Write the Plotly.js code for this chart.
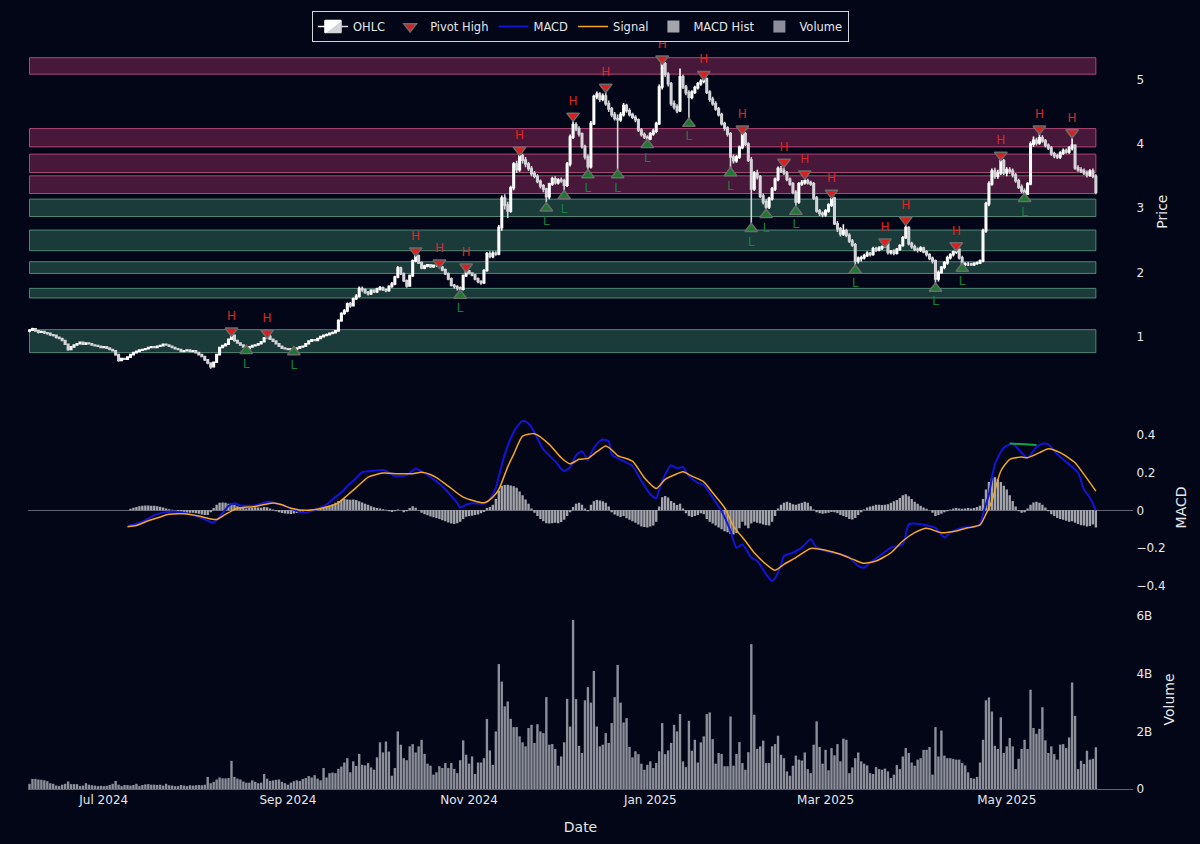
<!DOCTYPE html>
<html>
<head>
<meta charset="utf-8">
<script src="https://cdn.plot.ly/plotly-3.0.1.min.js"></script>
<style>
html,body{margin:0;padding:0;background:#020617;}
#chart{width:1200px;height:844px;}
</style>
</head>
<body>
<div id="chart"></div>
<script>
// ---- daily OHLC (day 0 = 2024-06-06) ----
const startDate = '2024-06-06';
const openPx = [
1.09,1.10,1.12,1.09,1.07,1.08,1.06,1.05,1.03,1.02,
0.99,0.97,0.94,0.88,0.80,0.84,0.87,0.89,0.91,0.88,
0.90,0.89,0.87,0.86,0.85,0.83,0.84,0.82,0.80,0.78,
0.72,0.63,0.66,0.65,0.68,0.72,0.75,0.77,0.79,0.80,
0.81,0.83,0.84,0.83,0.85,0.86,0.88,0.87,0.85,0.83,
0.81,0.80,0.77,0.78,0.79,0.77,0.78,0.75,0.72,0.69,
0.64,0.59,0.53,0.60,0.72,0.83,0.86,0.88,0.96,1.02,
0.94,0.90,0.87,0.84,0.81,0.84,0.86,0.87,0.89,0.92,
0.98,1.00,0.96,0.93,0.89,0.85,0.82,0.81,0.80,0.81,
0.80,0.82,0.84,0.85,0.89,0.93,0.95,0.94,0.97,1.00,
1.02,1.03,1.05,1.06,1.09,1.25,1.36,1.40,1.51,1.48,
1.59,1.63,1.75,1.73,1.69,1.67,1.72,1.70,1.74,1.76,
1.73,1.72,1.78,1.82,1.93,2.07,1.98,1.87,1.79,1.95,
2.18,2.26,2.15,2.07,2.10,2.12,2.09,2.11,2.11,2.08,
2.04,1.98,1.90,1.80,1.78,1.76,1.74,1.95,2.02,1.99,
1.96,1.90,1.86,1.84,2.03,2.29,2.25,2.30,2.29,2.70,
3.16,3.05,2.96,3.32,3.69,3.60,3.82,3.75,3.69,3.62,
3.54,3.50,3.42,3.35,3.30,3.18,3.38,3.46,3.40,3.44,
3.43,3.36,3.69,4.11,4.30,4.24,4.16,3.96,3.80,3.65,
4.32,4.74,4.78,4.70,4.75,4.63,4.55,4.46,4.40,4.38,
4.46,4.60,4.52,4.46,4.42,4.38,4.22,4.15,4.11,4.08,
4.16,4.20,4.32,4.89,5.25,5.09,4.94,4.63,4.58,4.52,
5.05,4.89,4.80,4.73,4.81,4.88,4.94,4.98,5.02,4.81,
4.70,4.63,4.55,4.46,4.32,4.25,4.16,3.80,3.74,3.80,
3.95,4.16,4.00,3.75,3.30,3.55,3.49,3.19,3.10,3.02,
3.15,3.30,3.45,3.62,3.58,3.55,3.45,3.38,3.25,3.10,
3.38,3.40,3.43,3.40,3.38,3.16,2.96,2.92,2.90,2.96,
3.05,3.16,2.76,2.68,2.60,2.65,2.58,2.49,2.43,2.18,
2.22,2.23,2.26,2.30,2.28,2.37,2.35,2.38,2.40,2.45,
2.31,2.33,2.30,2.36,2.42,2.54,2.70,2.45,2.40,2.36,
2.35,2.38,2.32,2.28,2.22,2.18,1.90,2.00,2.08,2.15,
2.23,2.28,2.32,2.36,2.23,2.12,2.13,2.13,2.12,2.14,
2.15,2.18,2.65,3.07,3.38,3.58,3.50,3.55,3.74,3.55,
3.60,3.58,3.52,3.43,3.33,3.27,3.22,3.38,4.00,4.06,
4.02,4.10,4.05,3.98,3.94,3.85,3.82,3.80,3.86,3.90,
3.88,3.94,3.98,3.63,3.60,3.58,3.55,3.52,3.58,3.50];
const highPx = [
1.12,1.14,1.13,1.10,1.09,1.09,1.07,1.06,1.04,1.03,
1.00,0.98,0.95,0.89,0.85,0.88,0.90,0.92,0.92,0.91,
0.91,0.90,0.88,0.87,0.86,0.85,0.85,0.83,0.81,0.79,
0.73,0.67,0.67,0.69,0.73,0.76,0.78,0.80,0.81,0.82,
0.84,0.85,0.85,0.86,0.87,0.89,0.89,0.88,0.86,0.84,
0.82,0.81,0.79,0.80,0.80,0.79,0.79,0.76,0.73,0.70,
0.65,0.60,0.61,0.73,0.84,0.87,0.90,0.97,1.06,1.03,
0.95,0.91,0.88,0.85,0.85,0.87,0.88,0.90,0.93,0.99,
1.02,1.03,0.97,0.94,0.90,0.86,0.83,0.82,0.82,0.82,
0.83,0.85,0.86,0.90,0.94,0.96,0.96,0.98,1.01,1.03,
1.05,1.06,1.08,1.10,1.27,1.38,1.43,1.53,1.54,1.61,
1.66,1.78,1.78,1.75,1.71,1.74,1.74,1.76,1.79,1.78,
1.75,1.80,1.85,1.95,2.10,2.09,2.00,1.89,1.97,2.20,
2.30,2.28,2.17,2.12,2.12,2.12,2.11,2.12,2.13,2.10,
2.06,2.00,1.92,1.82,1.80,1.78,1.97,2.06,2.04,2.00,
1.98,1.92,1.88,2.05,2.32,2.33,2.33,2.33,2.74,3.20,
3.22,3.10,3.35,3.72,3.74,3.86,3.85,3.80,3.72,3.66,
3.58,3.53,3.45,3.38,3.32,3.40,3.49,3.50,3.47,3.48,
3.46,3.72,4.15,4.36,4.34,4.28,4.18,3.99,3.84,4.36,
4.77,4.82,4.81,4.79,4.86,4.68,4.58,4.50,4.46,4.50,
4.64,4.63,4.56,4.49,4.45,4.40,4.25,4.18,4.14,4.19,
4.24,4.35,4.93,5.30,5.28,5.12,4.97,4.68,4.62,5.18,
5.08,4.92,4.84,4.84,4.91,4.97,5.01,5.06,5.04,4.84,
4.74,4.67,4.58,4.49,4.35,4.28,4.19,3.84,3.83,3.98,
4.20,4.19,4.03,3.80,3.58,3.60,3.52,3.23,3.14,3.18,
3.33,3.48,3.65,3.66,3.68,3.58,3.48,3.41,3.28,3.41,
3.44,3.48,3.46,3.43,3.41,3.19,2.99,2.95,2.99,3.08,
3.19,3.18,2.80,2.71,2.75,2.68,2.61,2.52,2.46,2.25,
2.26,2.29,2.33,2.32,2.40,2.40,2.41,2.42,2.46,2.45,
2.35,2.36,2.38,2.44,2.57,2.76,2.72,2.48,2.43,2.39,
2.41,2.40,2.35,2.30,2.25,2.20,2.03,2.10,2.18,2.26,
2.30,2.34,2.38,2.37,2.26,2.16,2.16,2.15,2.16,2.17,
2.20,2.68,3.10,3.42,3.62,3.63,3.60,3.78,3.77,3.64,
3.64,3.62,3.55,3.46,3.37,3.31,3.41,4.04,4.12,4.10,
4.16,4.14,4.08,4.01,3.97,3.88,3.85,3.89,3.93,3.93,
3.97,4.12,4.00,3.67,3.64,3.62,3.59,3.61,3.62,3.53];
const lowPx = [
1.07,1.09,1.08,1.05,1.06,1.04,1.03,1.01,1.00,0.97,
0.96,0.93,0.87,0.78,0.79,0.83,0.86,0.88,0.87,0.87,
0.88,0.86,0.85,0.84,0.82,0.82,0.81,0.79,0.77,0.70,
0.61,0.62,0.64,0.64,0.67,0.71,0.74,0.76,0.78,0.79,
0.80,0.82,0.82,0.82,0.84,0.85,0.86,0.84,0.82,0.80,
0.79,0.76,0.76,0.77,0.76,0.76,0.74,0.71,0.68,0.62,
0.57,0.50,0.52,0.59,0.71,0.82,0.85,0.87,0.95,0.92,
0.89,0.86,0.83,0.80,0.81,0.83,0.85,0.86,0.88,0.91,
0.97,0.95,0.92,0.88,0.84,0.81,0.80,0.79,0.79,0.79,
0.79,0.81,0.83,0.84,0.88,0.92,0.93,0.93,0.96,0.99,
1.01,1.02,1.04,1.05,1.08,1.23,1.34,1.38,1.45,1.47,
1.57,1.61,1.70,1.67,1.64,1.65,1.68,1.68,1.72,1.71,
1.69,1.70,1.76,1.80,1.91,1.96,1.85,1.76,1.78,1.93,
2.16,2.13,2.05,2.05,2.08,2.07,2.07,2.09,2.06,2.02,
1.96,1.88,1.78,1.75,1.72,1.68,1.72,1.93,1.97,1.94,
1.88,1.83,1.81,1.82,2.01,2.22,2.22,2.26,2.27,2.65,
2.98,2.85,2.93,3.28,3.55,3.57,3.70,3.64,3.58,3.50,
3.47,3.39,3.31,3.25,3.09,3.14,3.35,3.37,3.37,3.40,
3.25,3.33,3.65,4.08,4.20,4.12,3.93,3.76,3.58,3.62,
4.30,4.70,4.66,4.67,4.60,4.50,4.42,4.37,3.60,4.35,
4.43,4.49,4.43,4.39,4.34,4.19,4.12,4.08,4.04,4.06,
4.13,4.17,4.30,4.85,5.05,4.90,4.60,4.54,4.48,4.50,
4.86,4.76,4.38,4.70,4.78,4.85,4.91,4.95,4.78,4.66,
4.60,4.52,4.43,4.29,4.21,4.12,3.62,3.70,3.71,3.77,
3.92,3.97,3.72,2.75,3.27,3.45,3.16,3.06,2.96,2.99,
3.12,3.27,3.42,3.55,3.52,3.42,3.35,3.22,3.01,3.07,
3.35,3.37,3.37,3.35,3.13,2.93,2.88,2.86,2.87,2.93,
3.02,2.74,2.63,2.56,2.57,2.55,2.46,2.40,2.08,2.14,
2.17,2.20,2.24,2.25,2.26,2.32,2.33,2.35,2.38,2.28,
2.28,2.27,2.28,2.34,2.40,2.52,2.42,2.37,2.33,2.31,
2.32,2.30,2.25,2.19,2.14,1.80,1.86,1.98,2.05,2.12,
2.20,2.25,2.29,2.20,2.09,2.10,2.10,2.10,2.10,2.12,
2.13,2.16,2.62,3.03,3.35,3.46,3.46,3.52,3.52,3.50,
3.54,3.48,3.40,3.30,3.24,3.19,3.21,3.36,3.96,3.98,
3.99,4.02,3.95,3.91,3.82,3.78,3.77,3.77,3.83,3.85,
3.85,3.90,3.60,3.57,3.55,3.52,3.48,3.49,3.47,3.22];
const closePx = [
1.10,1.12,1.09,1.07,1.08,1.06,1.05,1.03,1.02,0.99,
0.97,0.94,0.88,0.80,0.84,0.87,0.89,0.91,0.88,0.90,
0.89,0.87,0.86,0.85,0.83,0.84,0.82,0.80,0.78,0.72,
0.63,0.66,0.65,0.68,0.72,0.75,0.77,0.79,0.80,0.81,
0.83,0.84,0.83,0.85,0.86,0.88,0.87,0.85,0.83,0.81,
0.80,0.77,0.78,0.79,0.77,0.78,0.75,0.72,0.69,0.64,
0.59,0.53,0.60,0.72,0.83,0.86,0.88,0.96,1.02,0.94,
0.90,0.87,0.84,0.81,0.84,0.86,0.87,0.89,0.92,0.98,
1.00,0.96,0.93,0.89,0.85,0.82,0.81,0.80,0.81,0.80,
0.82,0.84,0.85,0.89,0.93,0.95,0.94,0.97,1.00,1.02,
1.03,1.05,1.06,1.09,1.25,1.36,1.40,1.51,1.48,1.59,
1.63,1.75,1.73,1.69,1.67,1.72,1.70,1.74,1.76,1.73,
1.72,1.78,1.82,1.93,2.07,1.98,1.87,1.79,1.95,2.18,
2.26,2.15,2.07,2.10,2.12,2.09,2.11,2.11,2.08,2.04,
1.98,1.90,1.80,1.78,1.76,1.74,1.95,2.02,1.99,1.96,
1.90,1.86,1.84,2.03,2.29,2.25,2.30,2.29,2.70,3.16,
3.05,2.96,3.32,3.69,3.60,3.82,3.75,3.69,3.62,3.54,
3.50,3.42,3.35,3.30,3.18,3.38,3.46,3.40,3.44,3.43,
3.36,3.69,4.11,4.30,4.24,4.16,3.96,3.80,3.65,4.32,
4.74,4.78,4.70,4.75,4.63,4.55,4.46,4.40,4.38,4.46,
4.60,4.52,4.46,4.42,4.38,4.22,4.15,4.11,4.08,4.16,
4.20,4.32,4.89,5.25,5.09,4.94,4.63,4.58,4.52,5.05,
4.89,4.80,4.73,4.81,4.88,4.94,4.98,5.02,4.81,4.70,
4.63,4.55,4.46,4.32,4.25,4.16,3.80,3.74,3.80,3.95,
4.16,4.00,3.75,3.30,3.55,3.49,3.19,3.10,3.02,3.15,
3.30,3.45,3.62,3.58,3.55,3.45,3.38,3.25,3.10,3.38,
3.40,3.43,3.40,3.38,3.16,2.96,2.92,2.90,2.96,3.05,
3.16,2.76,2.68,2.60,2.65,2.58,2.49,2.43,2.18,2.22,
2.23,2.26,2.30,2.28,2.37,2.35,2.38,2.40,2.45,2.31,
2.33,2.30,2.36,2.42,2.54,2.70,2.45,2.40,2.36,2.35,
2.38,2.32,2.28,2.22,2.18,1.90,2.00,2.08,2.15,2.23,
2.28,2.32,2.36,2.23,2.12,2.13,2.13,2.12,2.14,2.15,
2.18,2.65,3.07,3.38,3.58,3.50,3.55,3.74,3.55,3.60,
3.58,3.52,3.43,3.33,3.27,3.22,3.38,4.00,4.06,4.02,
4.10,4.05,3.98,3.94,3.85,3.82,3.80,3.86,3.90,3.88,
3.94,3.98,3.63,3.60,3.58,3.55,3.52,3.58,3.50,3.25];

// ---- volume (billions) ----
const volumeB = [
0.18,0.35,0.35,0.33,0.32,0.30,0.27,0.20,0.18,0.12,
0.10,0.15,0.18,0.26,0.17,0.17,0.17,0.10,0.12,0.20,
0.15,0.13,0.12,0.10,0.11,0.10,0.11,0.14,0.18,0.28,
0.15,0.10,0.14,0.14,0.12,0.14,0.18,0.10,0.14,0.16,
0.17,0.15,0.15,0.14,0.15,0.12,0.18,0.13,0.12,0.10,
0.10,0.14,0.12,0.10,0.13,0.12,0.13,0.14,0.13,0.15,
0.42,0.20,0.25,0.33,0.40,0.37,0.37,0.38,0.98,0.42,
0.36,0.33,0.26,0.22,0.22,0.30,0.25,0.20,0.22,0.52,
0.36,0.28,0.30,0.32,0.33,0.25,0.20,0.15,0.22,0.27,
0.30,0.28,0.35,0.38,0.45,0.40,0.48,0.36,0.30,0.73,
0.40,0.55,0.57,0.55,0.70,0.78,0.92,1.07,0.58,0.96,
0.80,1.22,0.84,0.82,0.90,0.75,0.67,1.10,1.62,1.27,
1.65,1.30,0.46,0.73,2.00,1.54,1.07,1.00,1.48,1.56,
1.27,1.48,1.71,1.22,0.88,0.81,0.50,0.58,0.79,0.73,
0.90,0.73,0.90,0.70,0.55,1.00,1.69,1.19,0.88,1.13,
0.52,0.92,0.92,1.07,2.43,1.34,0.84,2.00,4.34,3.73,
2.87,3.04,2.44,2.15,2.15,1.83,1.62,1.48,2.12,2.23,
1.60,2.25,2.00,1.94,3.19,1.54,1.56,1.39,0.81,1.13,
1.62,3.13,2.17,5.87,3.12,1.50,1.25,3.08,3.54,3.00,
4.10,2.17,1.48,1.54,1.94,1.60,2.29,3.19,4.31,3.00,
2.31,2.46,1.46,1.10,1.31,1.21,0.88,0.67,0.84,0.96,
0.73,0.90,1.31,2.29,1.21,1.34,1.60,2.23,2.00,2.60,
0.96,0.76,2.37,1.33,1.71,0.92,1.62,1.83,2.60,2.66,
1.73,0.88,1.25,1.22,0.79,0.79,2.52,0.81,1.22,1.63,
0.90,0.67,1.28,5.03,2.58,1.39,1.48,1.68,0.90,0.90,
1.48,1.56,1.85,1.19,1.07,0.61,0.46,0.81,1.16,1.02,
0.99,1.27,0.69,0.55,1.54,2.35,1.46,0.88,1.36,0.65,
1.42,1.17,1.56,0.96,1.75,1.71,0.55,0.75,1.07,1.27,
0.96,0.88,0.82,0.55,0.52,0.76,0.69,0.67,0.71,0.61,
0.38,0.50,0.83,0.69,1.13,1.42,1.25,0.92,0.81,1.02,
1.07,1.36,1.36,1.46,0.50,2.15,1.13,2.03,1.16,1.07,
1.07,1.04,1.02,1.02,0.90,0.82,0.58,0.38,0.36,0.42,
0.92,1.71,3.08,3.18,2.69,1.50,1.39,2.49,1.25,1.48,
1.77,1.48,0.69,1.05,1.39,1.71,1.39,3.45,2.12,1.92,
2.09,2.84,1.69,1.25,1.48,1.21,1.02,1.54,1.56,1.42,
1.79,3.70,2.54,0.69,0.98,0.87,1.33,1.02,1.05,1.45];

// ---- MACD histogram (daily) ----
const macdHist = [
0,0,0,0,0,0,0,0,0,0,0,0,0,0,0,0,0,0,0,0,0,0,0,0,0,0,0,0,0,0,0,0,0,
0.000,0.008,0.014,0.018,0.022,0.025,0.026,
0.026,0.025,0.024,0.022,0.019,0.015,0.010,0.006,0.003,0.000,
-0.004,-0.007,-0.010,-0.012,-0.012,-0.013,-0.015,-0.018,-0.022,-0.025,
-0.024,-0.010,0.012,0.030,0.040,0.042,0.040,0.035,0.038,0.030,
0.022,0.016,0.012,0.010,0.012,0.014,0.016,0.015,0.014,0.018,
0.016,0.010,0.004,-0.004,-0.010,-0.014,-0.017,-0.018,-0.019,-0.017,
-0.014,-0.010,-0.006,-0.003,0.000,0.004,0.006,0.008,0.012,0.018,
0.022,0.026,0.032,0.040,0.050,0.056,0.060,0.058,0.056,0.058,
0.055,0.048,0.042,0.035,0.030,0.022,0.016,0.012,0.010,0.006,
0.003,-0.004,-0.008,-0.005,0.004,0.000,-0.010,-0.004,0.012,0.022,
0.014,0.002,-0.012,-0.020,-0.026,-0.032,-0.036,-0.040,-0.045,-0.052,
-0.058,-0.064,-0.070,-0.072,-0.068,-0.060,-0.045,-0.034,-0.030,-0.028,
-0.025,-0.022,-0.015,-0.008,0.012,0.018,0.030,0.060,0.105,0.130,
0.134,0.135,0.132,0.128,0.120,0.100,0.080,0.058,0.035,0.010,
-0.012,-0.030,-0.045,-0.058,-0.068,-0.070,-0.068,-0.066,-0.068,-0.062,
-0.050,-0.030,-0.010,0.018,0.035,0.040,0.030,0.010,-0.005,0.030,
0.048,0.055,0.052,0.048,0.040,0.020,-0.010,-0.022,-0.028,-0.035,
-0.030,-0.042,-0.050,-0.058,-0.065,-0.075,-0.085,-0.088,-0.090,-0.085,
-0.080,-0.060,0.020,0.070,0.076,0.068,0.050,0.040,0.028,0.035,
0.010,-0.015,-0.030,-0.035,-0.030,-0.025,-0.015,-0.020,-0.045,-0.060,
-0.070,-0.080,-0.090,-0.100,-0.110,-0.115,-0.125,-0.128,-0.120,-0.095,
-0.060,-0.080,-0.095,-0.070,-0.060,-0.065,-0.070,-0.075,-0.078,-0.080,
-0.060,-0.030,0.010,0.030,0.040,0.045,0.040,0.032,0.030,0.035,
0.040,0.045,0.040,0.022,0.005,-0.010,-0.015,-0.018,-0.015,-0.012,
-0.008,-0.010,-0.015,-0.025,-0.030,-0.035,-0.045,-0.048,-0.040,-0.025,
-0.010,0.005,0.015,0.020,0.025,0.030,0.030,0.028,0.030,0.032,
0.040,0.048,0.055,0.065,0.080,0.085,0.075,0.060,0.045,0.035,
0.025,0.015,0.008,0.000,-0.012,-0.030,-0.025,-0.018,-0.010,-0.005,
0.005,0.010,0.012,0.010,0.008,0.010,0.012,0.010,0.012,0.018,
0.025,0.060,0.110,0.150,0.170,0.175,0.165,0.150,0.130,0.110,
0.080,0.050,0.020,-0.005,-0.012,-0.010,0.010,0.030,0.042,0.045,
0.040,0.030,0.015,-0.005,-0.020,-0.030,-0.040,-0.045,-0.050,-0.055,
-0.060,-0.058,-0.065,-0.072,-0.078,-0.080,-0.085,-0.082,-0.075,-0.090];

// ---- MACD line (day index, value) ----
const macdDay = [33,35,38,42,45,47,50,52,55,57,60,62,64,67,69,71,74,76,79,81,84,86,89,91,93,95,98,100,102,105,107,110,112,115,117,119,121,123,125,127,129,130,132,134,136,138,140,142,144,145,147,149,151,153,155,157,158,160,162,164,166,167,169,171,173,175,177,179,180,182,184,186,188,189,191,193,195,196,198,200,203,206,209,211,212,214,216,218,220,222,225,227,230,233,236,238,240,243,245,248,250,251,253,254,257,260,263,265,268,273,276,279,281,283,287,290,294,296,298,303,305,308,310,314,318,320,321,323,325,328,331,333,336,339,341,343,346,350,353,355,357,359];
const macdVal = [-0.083,-0.075,-0.060,-0.025,-0.012,-0.007,-0.008,-0.012,-0.025,-0.035,-0.055,-0.065,-0.035,0.023,0.037,0.026,0.024,0.026,0.040,0.046,0.032,0.023,0.003,-0.010,-0.012,-0.004,0.014,0.030,0.058,0.095,0.128,0.170,0.202,0.208,0.211,0.213,0.200,0.181,0.182,0.185,0.210,0.222,0.205,0.188,0.165,0.141,0.112,0.076,0.040,0.014,0.030,0.038,0.036,0.035,0.060,0.120,0.180,0.296,0.380,0.440,0.472,0.470,0.440,0.380,0.322,0.290,0.260,0.220,0.208,0.228,0.290,0.313,0.265,0.300,0.350,0.375,0.365,0.296,0.275,0.260,0.234,0.155,0.085,0.063,0.110,0.190,0.239,0.222,0.229,0.181,0.146,0.134,0.067,-0.004,-0.109,-0.197,-0.180,-0.250,-0.268,-0.338,-0.373,-0.360,-0.290,-0.241,-0.224,-0.197,-0.153,-0.197,-0.215,-0.232,-0.250,-0.294,-0.303,-0.276,-0.232,-0.197,-0.180,-0.074,-0.070,-0.083,-0.092,-0.144,-0.118,-0.092,-0.088,-0.074,-0.020,0.085,0.243,0.331,0.352,0.322,0.278,0.335,0.352,0.349,0.296,0.243,0.199,0.111,0.067,0.000];

// ---- Signal line (day index, value) ----
const sigDay = [33,36,40,43,47,52,57,61,63,66,70,76,82,85,88,93,99,104,107,110,114,119,124,129,132,135,137,141,146,153,156,158,161,163,166,170,175,179,182,185,188,191,194,196,198,203,207,211,214,218,220,223,227,230,234,237,241,244,248,251,254,258,263,268,273,278,281,285,290,294,298,302,307,312,316,320,322,324,327,330,334,336,340,343,347,352,355,359];
const sigVal = [-0.086,-0.080,-0.055,-0.040,-0.021,-0.018,-0.030,-0.045,-0.048,-0.021,0.011,0.021,0.039,0.030,0.011,0.000,0.014,0.040,0.080,0.120,0.176,0.197,0.194,0.194,0.202,0.190,0.173,0.128,0.070,0.040,0.070,0.111,0.230,0.296,0.393,0.405,0.349,0.278,0.246,0.270,0.275,0.310,0.340,0.320,0.290,0.260,0.173,0.116,0.164,0.194,0.204,0.181,0.151,0.093,0.014,-0.083,-0.162,-0.224,-0.285,-0.317,-0.285,-0.250,-0.201,-0.211,-0.232,-0.264,-0.280,-0.268,-0.224,-0.162,-0.118,-0.095,-0.118,-0.109,-0.092,-0.077,-0.020,0.049,0.208,0.270,0.282,0.278,0.305,0.326,0.305,0.252,0.190,0.102];

// ---- divergence segment on MACD ----
const divDay = [330, 339];
const divVal = [0.354, 0.346];

// ---- pivots ----
const pivHighDay = [68,80,130,138,147,165,183,194,213,227,240,254,261,270,288,295,312,327,340,351];
const pivHighVal = [1.09,1.06,2.34,2.15,2.09,3.91,4.44,4.89,5.33,5.09,4.24,3.72,3.54,3.24,2.48,2.82,2.42,3.83,4.24,4.18];
const pivLowDay = [73,89,145,174,180,188,198,208,222,236,243,248,258,278,305,314,335];
const pivLowVal = [0.78,0.76,1.64,3.00,3.19,3.52,3.52,3.99,4.32,3.55,2.68,2.90,2.95,2.03,1.75,2.06,3.15];

// ---- support / resistance zones ----
const zoneLow  = [5.09, 3.957, 3.557, 3.230, 2.872, 2.339, 1.985, 1.602, 0.751];
const zoneHigh = [5.347, 4.242, 3.844, 3.506, 3.143, 2.661, 2.167, 1.752, 1.109];
const zoneKind = ['res','res','res','res','sup','sup','sup','sup','sup'];

// ---- build ----
const t0 = Date.parse(startDate + 'T00:00:00Z');
function dayToDate(d){ return new Date(t0 + d*86400000).toISOString().slice(0,10); }
const dates = closePx.map((_, i) => dayToDate(i));
const xRange = ['2024-06-05 12:00', '2025-06-12 12:00'];
const FONT = 'DejaVu Sans';
const TXT = '#e5e7eb';

const traces = [
  {type:'candlestick', name:'OHLC', x:dates, open:openPx, high:highPx, low:lowPx, close:closePx,
   xaxis:'x', yaxis:'y', whiskerwidth:0, hoverinfo:'skip',
   increasing:{line:{color:'#ffffff', width:1.6}, fillcolor:'#ffffff'},
   decreasing:{line:{color:'#d4d4d8', width:1.6}, fillcolor:'#d4d4d8'}},
  {type:'scatter', mode:'markers+text', name:'Pivot High', x:pivHighDay.map(dayToDate), y:pivHighVal,
   xaxis:'x', yaxis:'y', text:pivHighDay.map(()=> 'H'), textposition:'top center',
   textfont:{color:'#dc2626', size:12, family:FONT}, cliponaxis:false,
   marker:{symbol:'triangle-down', size:11, color:'#dc1e1e', line:{color:'#6b6b6b', width:1.5}}},
  {type:'scatter', mode:'markers+text', name:'Pivot Low', showlegend:false, x:pivLowDay.map(dayToDate), y:pivLowVal,
   xaxis:'x', yaxis:'y', text:pivLowDay.map(()=> 'L'), textposition:'bottom center',
   textfont:{color:'#15803d', size:12, family:FONT}, cliponaxis:false,
   marker:{symbol:'triangle-up', size:11, color:'#1b7a2c', line:{color:'#6b6b6b', width:1.5}}},
  {type:'scatter', mode:'lines', name:'MACD', x:macdDay.map(dayToDate), y:macdVal, xaxis:'x2', yaxis:'y2',
   line:{color:'#1414d8', width:2, shape:'spline', smoothing:0.6}},
  {type:'scatter', mode:'lines', name:'Signal', x:sigDay.map(dayToDate), y:sigVal, xaxis:'x2', yaxis:'y2',
   line:{color:'#f5a623', width:1.5, shape:'spline', smoothing:0.6}},
  {type:'bar', name:'MACD Hist', x:dates, y:macdHist, xaxis:'x2', yaxis:'y2',
   marker:{color:'rgba(205,205,210,0.8)', line:{width:0}}},
  {type:'bar', name:'Volume', x:dates, y:volumeB, xaxis:'x3', yaxis:'y3',
   marker:{color:'rgba(165,168,178,0.85)', line:{width:0}}},
  {type:'scatter', mode:'lines', name:'Divergence', showlegend:false, x:divDay.map(dayToDate), y:divVal,
   xaxis:'x2', yaxis:'y2', line:{color:'#16a34a', width:2}}
];

const shapes = zoneLow.map((lo, i) => ({
  type:'rect', xref:'x', yref:'y', layer:'below',
  x0:dates[0], x1:dates[dates.length-1], y0:lo, y1:zoneHigh[i],
  fillcolor: zoneKind[i] === 'res' ? 'rgba(130,40,85,0.55)' : 'rgba(50,110,90,0.52)',
  line:{color: zoneKind[i] === 'res' ? 'rgba(200,80,130,0.85)' : 'rgba(90,150,130,0.85)', width:1}
}));

const axisCommon = {showgrid:false, zeroline:false, color:TXT, tickfont:{size:12, color:TXT, family:FONT}, linecolor:'rgba(0,0,0,0)'};

const layout = {
  width:1200, height:844,
  paper_bgcolor:'#020617', plot_bgcolor:'#020617',
  font:{family:FONT, color:TXT, size:12},
  margin:{l:28, r:67, t:42, b:55},
  showlegend:true,
  legend:{orientation:'h', x:0.5, xanchor:'center', y:1, yanchor:'bottom',
          bgcolor:'#020617', bordercolor:'#d1d5db', borderwidth:1, font:{size:11.5, color:TXT, family:FONT}},
  bargap:0.2,
  shapes:shapes,
  xaxis: Object.assign({}, axisCommon, {domain:[0,1], anchor:'y', type:'date', range:xRange, showticklabels:false, rangeslider:{visible:false}}),
  xaxis2: Object.assign({}, axisCommon, {domain:[0,1], anchor:'y2', type:'date', range:xRange, showticklabels:false}),
  xaxis3: Object.assign({}, axisCommon, {domain:[0,1], anchor:'y3', type:'date', range:xRange,
          tickformat:'%b %Y', dtick:'M2', tick0:'2024-07-01', ticks:'',
          title:{text:'Date', standoff:15, font:{size:14, color:TXT, family:FONT}}}),
  yaxis: Object.assign({}, axisCommon, {domain:[0.548,1], anchor:'x', side:'right', range:[0.321,5.576], dtick:1,
          title:{text:'Price', standoff:14, font:{size:14, color:TXT, family:FONT}}}),
  yaxis2: Object.assign({}, axisCommon, {domain:[0.255,0.5], anchor:'x2', side:'right', range:[-0.4673,0.4989], dtick:0.2,
          zeroline:true, zerolinecolor:'#5f6170', zerolinewidth:1,
          title:{text:'MACD', standoff:11, font:{size:14, color:TXT, family:FONT}}}),
  yaxis3: Object.assign({}, axisCommon, {domain:[0,0.24], anchor:'x3', side:'right', range:[0,6.219],
          tickvals:[0,2,4,6], ticktext:['0','2B','4B','6B'],
          zeroline:true, zerolinecolor:'#5f6170', zerolinewidth:1,
          title:{text:'Volume', standoff:12, font:{size:14, color:TXT, family:FONT}}})
};

Plotly.newPlot('chart', traces, layout, {displayModeBar:false, staticPlot:true});
</script>
</body>
</html>
